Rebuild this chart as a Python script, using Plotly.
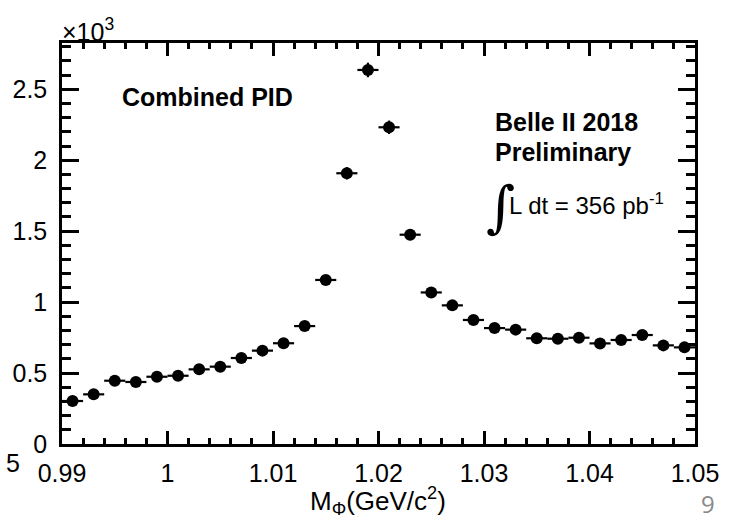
import numpy as np
import plotly.graph_objects as go

# Bin centres (GeV/c^2) and counts
mass = [0.991, 0.993, 0.995, 0.997, 0.999, 1.001, 1.003, 1.005, 1.007, 1.009,
        1.011, 1.013, 1.015, 1.017, 1.019, 1.021, 1.023, 1.025, 1.027, 1.029,
        1.031, 1.033, 1.035, 1.037, 1.039, 1.041, 1.043, 1.045, 1.047, 1.049]
counts = [303, 350, 446, 437, 474, 481, 526, 545, 606, 658,
          710, 831, 1156, 1908, 2636, 2232, 1475, 1068, 977, 874,
          817, 806, 745, 742, 749, 709, 733, 768, 695, 681]
half_bin = 0.001

x_tickvals = [0.99, 1.00, 1.01, 1.02, 1.03, 1.04, 1.05]
x_ticktext = ["0.99", "1", "1.01", "1.02", "1.03", "1.04", "1.05"]
y_tickvals = [0, 500, 1000, 1500, 2000, 2500]
y_ticktext = ["0", "0.5", "1", "1.5", "2", "2.5"]

FONT = "Liberation Sans, Arial, Helvetica, sans-serif"

fig = go.Figure()
fig.add_trace(go.Scatter(
    x=mass, y=counts, mode="markers",
    marker=dict(color="black", size=12, symbol="circle"),
    error_x=dict(type="constant", value=half_bin, color="black", thickness=2.2, width=0),
    error_y=dict(type="data", array=list(np.sqrt(counts)), color="black", thickness=2.2, width=0),
    showlegend=False,
))

axis_common = dict(
    showline=True, linecolor="black", linewidth=2.5, mirror="ticks",
    ticks="inside", tickcolor="black", tickwidth=2.5,
    showgrid=False, zeroline=False,
    tickfont=dict(family=FONT, size=25, color="black"),
)

fig.update_xaxes(
    range=[0.99, 1.05], tickvals=x_tickvals, ticktext=x_ticktext, ticklen=13,
    minor=dict(dtick=0.002, tick0=0.99, ticks="inside", ticklen=6, tickwidth=2.5, tickcolor="black"),
    ticklabelstandoff=5,
    **axis_common,
)
fig.update_yaxes(
    range=[0, 2826], tickvals=y_tickvals, ticktext=y_ticktext, ticklen=17,
    minor=dict(dtick=100, tick0=0, ticks="inside", ticklen=9, tickwidth=2.5, tickcolor="black"),
    ticklabelstandoff=7,
    **axis_common,
)

def px(xp):
    return (xp - 56) / 644

def py(yp):
    return (444 - yp) / 401

annotations = [
    dict(text="×10<sup>3</sup>", x=px(54), y=py(30), xanchor="left", yanchor="middle",
         font=dict(family=FONT, size=25, color="black")),
    dict(text="<b>Combined PID</b>", x=px(115), y=py(97), xanchor="left", yanchor="middle",
         font=dict(family=FONT, size=25, color="black")),
    dict(text="<b>Belle II 2018</b>", x=px(494), y=py(122), xanchor="left", yanchor="middle",
         font=dict(family=FONT, size=25, color="black")),
    dict(text="<b>Preliminary</b>", x=px(494), y=py(152), xanchor="left", yanchor="middle",
         font=dict(family=FONT, size=25, color="black")),
    dict(text="∫", x=px(485), y=py(207), xanchor="left", yanchor="middle",
         font=dict(family="DejaVu Serif, serif", size=56, color="black")),
    dict(text="L dt = 356 pb<sup>-1</sup>", x=px(509), y=py(204), xanchor="left", yanchor="middle",
         font=dict(family=FONT, size=24, color="black")),
    dict(text="M<sub>Φ</sub>(GeV/c<sup>2</sup>)", x=px(377), y=py(501), xanchor="center", yanchor="middle",
         font=dict(family=FONT, size=26, color="black")),
    dict(text="5", x=px(6), y=py(463), xanchor="center", yanchor="middle",
         font=dict(family=FONT, size=25, color="black")),
    dict(text="9", x=px(713), y=py(503), xanchor="center", yanchor="middle",
         font=dict(family="Open Sans, sans-serif", size=24, color="#8a8a8a")),
]
for a in annotations:
    a.update(xref="paper", yref="paper", showarrow=False)

fig.update_layout(
    width=731, height=519,
    margin=dict(l=56, r=31, t=43, b=75, pad=0),
    paper_bgcolor="white", plot_bgcolor="white",
    annotations=annotations,
)

fig.write_html("out.html")
